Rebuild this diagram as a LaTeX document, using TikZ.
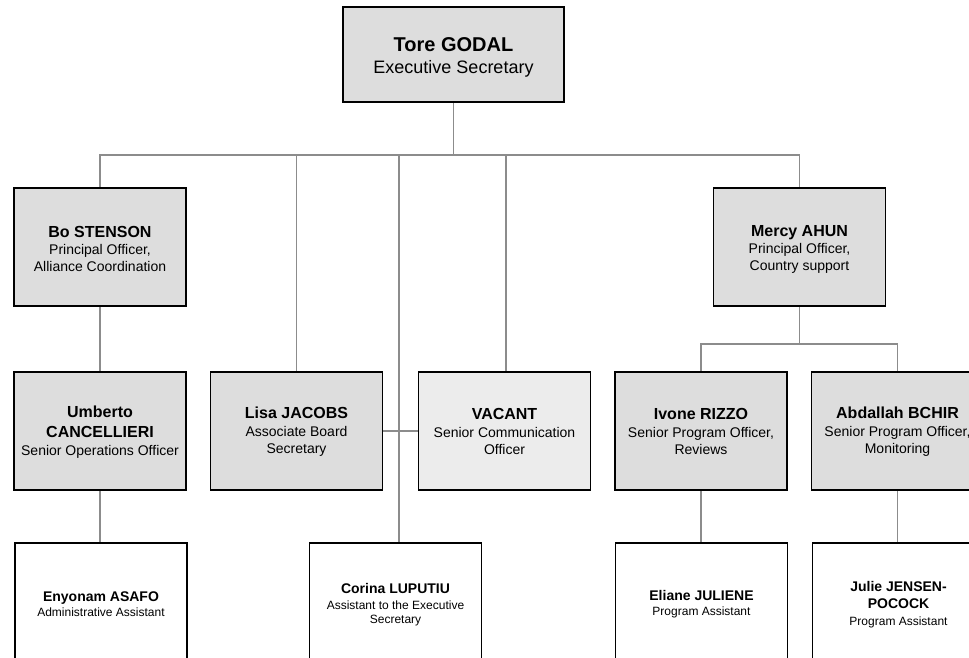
\documentclass[tikz,border=0pt]{standalone}
\usepackage{fontspec}
\setmainfont{Liberation Sans}
\usetikzlibrary{backgrounds}
\definecolor{boxgray}{RGB}{221,221,221}
\definecolor{vacgray}{RGB}{236,236,236}
\definecolor{linegray}{RGB}{140,140,140}
\begin{document}
\begin{tikzpicture}[x=1pt,y=-1pt,
  orgbox/.style={draw=black, line width=1.5pt, fill=boxgray, minimum width=172pt, minimum height=118pt, inner sep=0pt},
  vacbox/.style={orgbox, fill=vacgray},
  leafbox/.style={orgbox, fill=white, minimum height=122pt},
  topbox/.style={orgbox, minimum width=221pt, minimum height=95pt},
  midtext/.style={inner sep=0pt, align=center, font=\fontsize{14}{17}\selectfont},
  leaftext/.style={inner sep=0pt, align=center, font=\fontsize{12}{15}\selectfont},
  toptext/.style={inner sep=0pt, align=center, font=\fontsize{18}{22}\selectfont},
  link/.style={draw=linegray, line width=1.3pt}
]
\useasboundingbox (0,0) rectangle (969,657);
\newcommand{\nmA}[1]{{\bfseries\fontsize{20}{22}\selectfont #1}}
\newcommand{\nmB}[1]{{\bfseries\fontsize{16}{19}\selectfont #1}}
\newcommand{\nmC}[1]{{\bfseries\fontsize{14}{16}\selectfont #1}}

\coordinate (busY) at (0,155);
\coordinate (subY) at (0,344);
\coordinate (corX) at (399,0);
\coordinate (vacX) at (506,0);

% boxes
\node[topbox] (top) at (453.5,54.5) {};
\node[orgbox] (bo) at (100,247) {};
\node[orgbox] (mercy) at (799.5,247) {};
\node[orgbox] (umb) at (100,431) {};
\node[orgbox] (lisa) at (296.5,431) {};
\node[vacbox] (vac) at (504.5,431) {};
\node[orgbox] (ivone) at (701,431) {};
\node[orgbox] (abd) at (897.5,431) {};
\node[leafbox] (eny) at (101,604) {};
\node[leafbox] (cor) at (395.5,604) {};
\node[leafbox] (eli) at (701.5,604) {};
\node[leafbox] (jul) at (898.5,604) {};

% texts
\node[toptext] (topT) at (453.5,57.5) {\nmA{Tore GODAL}\\Executive Secretary};
\node[midtext] (boT) at (100,249) {\nmB{Bo STENSON}\\Principal Officer,\\Alliance Coordination};
\node[midtext] (mercyT) at (799.5,249) {\nmB{Mercy AHUN}\\Principal Officer,\\Country support};
\node[midtext] (umbT) at (100,432) {\nmB{Umberto}\\[3pt]\nmB{CANCELLIERI}\\[1pt]Senior Operations Officer};
\node[midtext] (lisaT) at (296.5,431.5) {\nmB{Lisa JACOBS}\\[1pt]Associate Board\\Secretary};
\node[midtext] (vacT) at (504.5,431.5) {\nmB{VACANT}\\[1pt]Senior Communication\\Officer};
\node[midtext] (ivoneT) at (701,431.5) {\nmB{Ivone RIZZO}\\[1pt]Senior Program Officer,\\Reviews};
\node[midtext] (abdT) at (897.5,431.5) {\nmB{Abdallah BCHIR}\\[1pt]Senior Program Officer,\\Monitoring};
\node[leaftext] (enyT) at (101,604) {\nmC{Enyonam ASAFO}\\Administrative Assistant};
\node[leaftext] (corT) at (395.5,604.5) {\nmC{Corina LUPUTIU}\\[1pt]Assistant to the Executive\\[-1pt]Secretary};
\node[leaftext] (eliT) at (701.5,604) {\nmC{Eliane JULIENE}\\Program Assistant};
\node[leaftext] (julT) at (898.5,604.5) {\nmC{Julie JENSEN-}\\[2pt]\nmC{POCOCK}\\[2pt]Program Assistant};

\begin{pgfonlayer}{background}
% top level bus
\path[link] (top.south) -- (top.south |- busY);
\path[link] (bo.north) -- (bo.north |- busY) -- (mercy.north |- busY) -- (mercy.north);
\path[link] (lisa.north |- busY) -- (lisa.north);
\path[link] (corX |- busY) -- (corX |- cor.north);
\path[link] (vacX |- busY) -- (vacX |- vac.north);
% lisa -- vacant
\path[link] (lisa.east) -- (vac.west);
% left chain
\path[link] (bo.south) -- (umb.north);
\path[link] (umb.south) -- (umb.south |- eny.north);
% right chain
\path[link] (mercy.south) -- (mercy.south |- subY);
\path[link] (ivone.north) -- (ivone.north |- subY) -- (abd.north |- subY) -- (abd.north);
\path[link] (ivone.south) -- (ivone.south |- eli.north);
\path[link] (abd.south) -- (abd.south |- jul.north);
\end{pgfonlayer}
\end{tikzpicture}
\end{document}
